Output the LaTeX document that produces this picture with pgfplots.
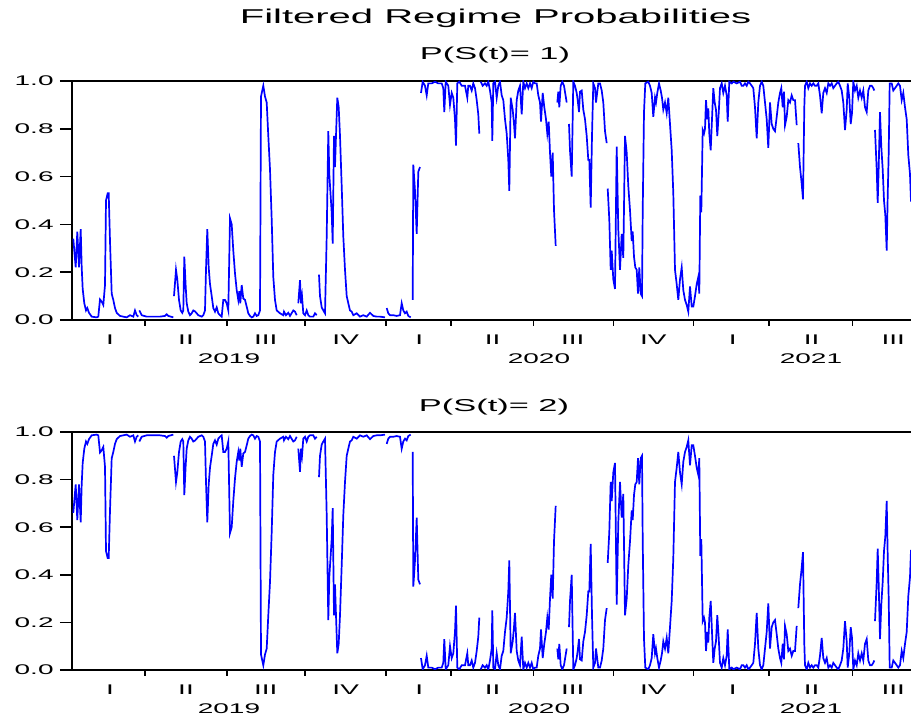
\documentclass[border=0pt]{standalone}
\usepackage{fontspec}
\setmainfont[FakeStretch=2.0]{Liberation Sans}
\usepackage{pgfplots}
\pgfplotsset{compat=1.18}
\usepackage{pgfplotstable}

\pgfplotstableread{
x p q
73.3 .34 .66
75.7 .22 .78
77.3 .37 .63
79.0 .22 .78
80.7 .38 .62
81.7 .22 .78
82.7 .13 .87
84.3 .07 .93
86.0 .04 .96
87.3 .05 .95
89.0 .03 .97
91.7 .014 .986
96.7 .011 .989
98.3 .014 .986
100.0 .086 .914
101.7 .077 .923
103.3 .063 .937
105.0 .146 .854
106.0 .50 .50
107.7 .53 .47
108.7 .53 .47
110.0 .33 .67
111.7 .11 .89
113.3 .084 .916
115.0 .05 .95
116.7 .03 .97
120.0 .017 .983
123.3 .014 .986
126.7 .011 .989
130.0 .02 .98
131.7 .017 .983
133.3 .014 .986
135.0 .04 .96
136.7 .02 .98
138.3 .014 .986
nan nan nan
139.3 .04 .96
141.7 .02 .98
146.7 .014 .986
153.3 .014 .986
160.0 .014 .986
165.0 .017 .983
166.7 .024 .976
168.3 .017 .983
173.3 .011 .989
nan nan nan
174.0 .10 .90
176.0 .21 .79
177.3 .17 .83
179.0 .084 .916
180.7 .04 .96
182.3 .03 .97
183.3 .04 .96
184.3 .265 .735
185.7 .14 .86
186.7 .07 .93
188.3 .035 .965
190.0 .02 .98
191.7 .028 .972
193.3 .04 .96
195.0 .036 .964
196.7 .028 .972
198.3 .02 .98
200.0 .017 .983
201.7 .014 .986
203.3 .02 .98
205.0 .04 .96
206.0 .21 .79
207.3 .38 .62
208.7 .22 .78
210.0 .15 .85
211.7 .10 .90
213.3 .05 .95
215.0 .035 .965
216.7 .053 .947
218.3 .028 .972
220.0 .02 .98
221.7 .014 .986
223.3 .084 .916
225.0 .084 .916
226.7 .07 .93
228.3 .04 .96
230.0 .425 .575
231.7 .40 .60
233.3 .29 .71
235.0 .195 .805
236.7 .125 .875
238.3 .084 .916
239.3 .12 .88
240.3 .07 .93
241.7 .146 .854
243.3 .09 .91
245.0 .084 .916
246.7 .056 .944
248.3 .028 .972
250.0 .017 .983
251.7 .011 .989
253.3 .014 .986
255.0 .028 .972
256.7 .017 .983
258.3 .02 .98
260.0 .04 .96
261.0 .935 .065
263.3 .98 .02
265.0 .935 .065
266.7 .91 .09
268.3 .77 .23
270.0 .63 .37
271.7 .42 .58
273.3 .18 .82
275.0 .084 .916
276.7 .04 .96
280.0 .028 .972
283.3 .02 .98
284.0 .035 .965
286.0 .02 .98
288.3 .03 .97
290.0 .017 .983
293.3 .04 .96
295.0 .035 .965
296.7 .02 .98
nan nan nan
298.3 .07 .93
300.0 .167 .833
301.0 .07 .93
302.0 .10 .90
303.3 .028 .972
305.0 .02 .98
306.7 .04 .96
308.3 .02 .98
310.0 .014 .986
313.3 .014 .986
315.0 .028 .972
316.7 .02 .98
nan nan nan
319.0 .19 .81
320.0 .10 .90
321.7 .053 .947
323.3 .04 .96
325.0 .028 .972
326.7 .35 .65
328.3 .79 .21
329.3 .61 .39
331.7 .45 .55
332.7 .32 .68
334.0 .77 .23
335.0 .64 .36
336.0 .77 .23
337.3 .93 .07
338.7 .89 .11
340.0 .77 .23
341.7 .56 .44
343.3 .35 .65
345.0 .21 .79
346.7 .10 .90
348.3 .07 .93
350.0 .04 .96
351.7 .035 .965
353.3 .02 .98
356.7 .028 .972
360.0 .014 .986
363.3 .02 .98
366.7 .014 .986
370.0 .03 .97
373.3 .017 .983
376.7 .014 .986
380.0 .014 .986
385.0 .011 .989
nan nan nan
386.7 .05 .95
388.3 .028 .972
390.0 .02 .98
393.3 .02 .98
396.7 .017 .983
400.0 .02 .98
401.7 .07 .93
403.3 .04 .96
405.0 .028 .972
406.7 .035 .965
408.3 .017 .983
410.7 .011 .989
nan nan nan
412.7 .084 .916
413.3 .65 .35
415.0 .54 .46
416.7 .36 .64
418.3 .62 .38
420.0 .64 .36
nan nan nan
421.0 .95 .05
422.7 .997 .003
425.0 .98 .02
426.7 .94 .06
428.3 .99 .01
431.7 .99 .01
435.0 .997 .003
438.3 .99 .01
441.7 .99 .01
443.3 .97 .03
444.3 .87 .13
445.7 .997 .003
448.3 .98 .02
450.0 .90 .10
451.7 .95 .05
453.3 .93 .07
455.0 .84 .16
456.0 .73 .27
457.3 .99 .01
459.3 .997 .003
461.7 .98 .02
463.3 .98 .02
465.0 .98 .02
467.3 .93 .07
468.3 .98 .02
470.0 .98 .02
471.7 .96 .04
473.3 .99 .01
475.0 .97 .03
476.7 .92 .08
478.3 .86 .14
479.3 .78 .22
nan nan nan
480.7 .997 .003
482.7 .98 .02
485.0 .99 .01
486.7 .98 .02
488.3 .997 .003
490.0 .96 .04
491.7 .91 .09
492.3 .75 .25
493.3 .99 .01
495.0 .997 .003
496.7 .93 .07
498.3 .98 .02
500.0 .997 .003
501.7 .94 .06
503.3 .92 .08
505.0 .84 .16
506.7 .78 .22
508.3 .67 .33
509.3 .54 .46
510.7 .93 .07
512.7 .88 .12
514.0 .82 .18
515.0 .76 .24
516.7 .92 .08
518.3 .96 .04
520.0 .98 .02
521.7 .86 .14
523.3 .997 .003
525.0 .97 .03
526.7 .99 .01
528.3 .97 .03
530.0 .99 .01
531.7 .97 .03
533.3 .997 .003
535.0 .99 .01
536.7 .99 .01
538.3 .94 .06
540.0 .91 .09
541.0 .83 .17
542.7 .95 .05
544.3 .89 .11
546.0 .84 .16
547.3 .78 .22
548.7 .83 .17
550.0 .70 .30
551.3 .60 .40
552.7 .70 .30
554.0 .46 .54
555.7 .31 .69
nan nan nan
557.3 .91 .09
558.3 .955 .045
559.3 .89 .11
560.7 .98 .02
562.3 .997 .003
564.0 .98 .02
566.7 .91 .09
nan nan nan
569.0 .82 .18
570.0 .71 .29
571.7 .60 .40
573.3 .997 .003
575.0 .98 .02
576.7 .95 .05
577.7 .92 .08
579.0 .87 .13
580.0 .955 .045
581.7 .96 .04
583.3 .88 .12
585.0 .84 .16
586.7 .77 .23
588.3 .67 .33
589.3 .67 .33
590.7 .47 .53
592.0 .77 .23
593.3 .99 .01
595.0 .97 .03
596.0 .91 .09
597.3 .955 .045
598.3 .99 .01
600.0 .99 .01
601.7 .96 .04
603.3 .91 .09
605.0 .79 .21
606.7 .74 .26
nan nan nan
607.7 .55 .45
609.3 .42 .58
610.7 .21 .79
611.7 .29 .71
613.3 .17 .83
615.0 .13 .87
616.7 .725 .275
618.3 .38 .62
620.0 .21 .79
621.7 .36 .64
623.3 .26 .74
625.0 .77 .23
626.7 .70 .30
628.3 .56 .44
630.0 .46 .54
631.7 .33 .67
632.7 .37 .63
634.0 .265 .735
635.3 .22 .78
636.7 .21 .79
638.0 .11 .89
639.3 .22 .78
640.7 .11 .89
642.0 .10 .90
642.7 .45 .55
644.0 .87 .13
645.3 .99 .01
648.3 .997 .003
650.0 .98 .02
651.7 .95 .05
653.3 .85 .15
655.0 .93 .07
656.0 .91 .09
657.3 .95 .05
659.0 .99 .01
660.7 .96 .04
662.0 .93 .07
663.3 .88 .12
665.0 .91 .09
666.7 .865 .135
668.3 .93 .07
670.0 .82 .18
671.7 .71 .29
673.3 .53 .47
675.0 .21 .79
676.7 .15 .85
678.3 .084 .916
680.0 .17 .83
681.7 .22 .78
683.3 .125 .875
685.0 .084 .916
686.7 .063 .937
688.3 .035 .965
690.0 .14 .86
691.7 .056 .944
693.3 .056 .944
695.0 .10 .90
696.7 .15 .85
698.3 .18 .82
699.3 .11 .89
700.3 .52 .48
701.3 .45 .55
702.7 .795 .205
704.0 .78 .22
705.0 .80 .20
706.0 .92 .08
707.3 .84 .16
708.3 .885 .115
709.3 .78 .22
710.7 .71 .29
712.0 .84 .16
713.3 .97 .03
714.7 .91 .09
716.0 .88 .12
717.3 .77 .23
718.7 .865 .135
720.0 .97 .03
721.7 .99 .01
723.3 .95 .05
725.0 .98 .02
726.7 .94 .06
727.7 .83 .17
729.3 .997 .003
731.7 .99 .01
733.3 .997 .003
736.7 .99 .01
740.0 .997 .003
741.7 .98 .02
743.3 .98 .02
745.0 .99 .01
746.7 .98 .02
748.3 .997 .003
750.0 .99 .01
751.7 .98 .02
753.3 .97 .03
755.0 .89 .11
756.7 .76 .24
758.3 .91 .09
760.0 .98 .02
761.7 .997 .003
763.3 .98 .02
765.0 .91 .09
766.7 .84 .16
768.3 .72 .28
770.0 .91 .09
771.7 .82 .18
773.3 .80 .20
775.0 .79 .21
776.7 .85 .15
778.3 .91 .09
780.0 .95 .05
781.3 .97 .03
782.7 .89 .11
784.0 .955 .045
785.0 .815 .185
786.7 .85 .15
788.3 .92 .08
790.0 .91 .09
791.7 .94 .06
793.3 .92 .08
795.0 .92 .08
796.7 .815 .185
nan nan nan
798.3 .74 .26
800.0 .64 .36
801.7 .57 .43
803.0 .505 .495
804.3 .89 .11
805.0 .98 .02
806.7 .997 .003
808.3 .97 .03
810.0 .99 .01
811.7 .98 .02
813.3 .99 .01
815.0 .98 .02
816.7 .98 .02
818.3 .99 .01
820.0 .94 .06
821.7 .865 .135
823.3 .95 .05
825.0 .97 .03
826.7 .95 .05
828.3 .99 .01
830.0 .98 .02
831.7 .99 .01
833.3 .97 .03
835.0 .98 .02
836.7 .99 .01
838.3 .997 .003
840.0 .98 .02
841.7 .96 .04
843.3 .91 .09
845.0 .795 .205
846.7 .88 .12
847.7 .99 .01
849.3 .93 .07
850.7 .82 .18
852.0 .865 .135
853.3 .997 .003
855.0 .96 .04
856.7 .98 .02
858.3 .93 .07
860.0 .96 .04
861.7 .93 .07
863.3 .96 .04
865.0 .89 .11
866.7 .87 .13
868.3 .96 .04
870.0 .98 .02
871.7 .98 .02
873.3 .97 .03
874.3 .96 .04
nan nan nan
875.0 .795 .205
876.7 .63 .37
877.7 .49 .51
878.7 .64 .36
880.0 .87 .13
881.3 .725 .275
882.7 .63 .37
884.0 .50 .50
885.3 .44 .56
886.7 .29 .71
887.7 .52 .48
888.7 .70 .30
889.7 .99 .01
891.7 .99 .01
893.3 .96 .04
895.0 .97 .03
896.7 .98 .02
898.3 .99 .01
900.0 .98 .02
901.7 .92 .08
903.3 .95 .05
905.0 .89 .11
906.7 .84 .16
908.3 .69 .31
910.0 .61 .39
911.0 .495 .505
}\regdata

\newcommand{\tickfont}{\fontsize{7}{8}\selectfont}

\pgfplotsset{
  regime/.style={
    scale only axis,
    width=419.5pt,
    xmin=72, xmax=911, ymin=0, ymax=1,
    axis x line*=box, axis y line*=left,
    axis line style={line width=1pt, black},
    tick align=outside,
    xtick pos=bottom, ytick pos=left,
    xtick=\empty,
    minor xtick={93.3,119,174,198.3,256.7,282.7,330,355.7,404,422.7,480,502.3,560,586.7,640.7,660.7,715.7,735,799,821,879,905.7},
    extra x ticks={145,226.7,305,385.7,451,533.3,613.3,693.3,769,852.3},
    extra x tick labels={},
    extra x tick style={major tick length=3pt},
    minor tick length=1.75pt,
    major tick length=6pt,
    tick style={line width=0.8pt, black},
    ytick={0,0.2,0.4,0.6,0.8,1.0},
    yticklabel style={font=\tickfont, inner sep=0pt, xshift=-3pt,
      /pgf/number format/.cd, fixed, fixed zerofill, precision=1, assume math mode=true},
    unbounded coords=jump,
    clip mode=individual,
  },
}

\begin{document}
\begin{tikzpicture}[x=1pt,y=1pt]
\path[use as bounding box] (-36pt,-25.5pt) rectangle (419.5pt,335pt);

% top panel
\begin{axis}[regime, height=119.5pt, at={(0pt,175pt)}, anchor=south west]
\addplot[blue, line width=0.85pt] table[x=x, y=p] {\regdata};
\end{axis}

% bottom panel
\begin{axis}[regime, height=119pt, at={(0pt,0pt)}, anchor=south west]
\addplot[blue, line width=0.85pt] table[x=x, y=q] {\regdata};
\end{axis}

% quarter and year labels
\foreach \yo in {0,175}{
  \foreach \xq/\lab in {19/I,57/II,96.85/III,136.85/IV,173.65/I,210.35/II,250.35/III,290.65/IV,330.35/I,369.85/II,410.65/III}{
    \node[font=\tickfont, inner sep=0pt] at (\xq pt,\yo pt-9.75pt) {\lab};
  }
  \foreach \xy/\yr in {78.5/2019,233.5/2020,369.5/2021}{
    \node[font=\tickfont, inner sep=0pt] at (\xy pt,\yo pt-19.5pt) {\yr};
  }
}

\node[font=\fontsize{10}{12}\selectfont, inner sep=0pt] at (211.75pt,326pt) {Filtered Regime Probabilities};
\node[font=\fontsize{8.6}{10}\selectfont, inner sep=0pt] at (211.5pt,307.5pt) {P(S(t)= 1)};
\node[font=\fontsize{8.6}{10}\selectfont, inner sep=0pt] at (211pt,131.5pt) {P(S(t)= 2)};
\end{tikzpicture}
\end{document}
